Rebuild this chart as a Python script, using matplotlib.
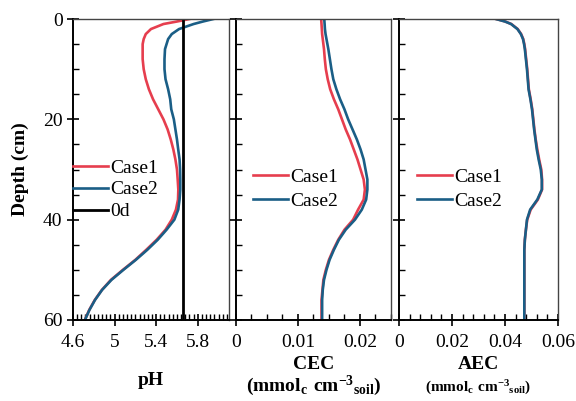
import numpy as np
import matplotlib
matplotlib.use("Agg")
from matplotlib import pyplot as plt
from matplotlib.ticker import MultipleLocator

plt.rcParams['font.family'] = ['Liberation Serif', 'DejaVu Serif']
plt.rcParams['mathtext.fontset'] = 'custom'
plt.rcParams['mathtext.rm'] = 'Liberation Serif'
plt.rcParams['mathtext.bf'] = 'Liberation Serif:bold'
plt.rcParams['font.size'] = 14

# depth grid (cm)
depth = [0, 0.5, 1, 2, 3, 4, 5, 6, 8, 10, 12, 14, 16, 18, 20, 22, 24, 26, 28,
         30, 32, 34, 36, 38, 40, 42, 44, 46, 48, 50, 52, 54, 56, 58, 60]

# pH profiles
ph_case1 = [5.72, 5.60, 5.47, 5.35, 5.30, 5.28, 5.27, 5.27, 5.27, 5.28, 5.30, 5.33,
            5.37, 5.42, 5.47, 5.51, 5.54, 5.565, 5.585, 5.60, 5.607, 5.613, 5.61,
            5.59, 5.55, 5.49, 5.405, 5.305, 5.20, 5.08, 4.965, 4.878, 4.81, 4.756, 4.714]
ph_case2 = [5.95, 5.85, 5.76, 5.62, 5.55, 5.515, 5.50, 5.485, 5.48, 5.48, 5.49, 5.515,
            5.535, 5.545, 5.57, 5.585, 5.60, 5.612, 5.625, 5.63, 5.632, 5.632, 5.625,
            5.612, 5.575, 5.50, 5.415, 5.315, 5.205, 5.085, 4.97, 4.88, 4.812, 4.758, 4.715]
ph_0d = 5.66

# CEC profiles (mmolc cm-3 soil)
cec_case1 = [0.01375, 0.01377, 0.0138, 0.01385, 0.0139, 0.0140, 0.0141, 0.0142,
             0.01433, 0.0145, 0.0148, 0.0152, 0.0158, 0.0165, 0.0171, 0.0177, 0.0184,
             0.0190, 0.0196, 0.0201, 0.0206, 0.0208, 0.0206, 0.0197, 0.0189, 0.0175,
             0.0165, 0.0157, 0.0150, 0.0145, 0.0141, 0.01395, 0.0138, 0.0138, 0.0138]
cec_case2 = [0.01425, 0.01427, 0.0143, 0.01435, 0.01445, 0.0146, 0.01475, 0.0149,
             0.01515, 0.0154, 0.0157, 0.0162, 0.0168, 0.0175, 0.0181, 0.0188, 0.0195,
             0.0201, 0.0206, 0.0209, 0.0212, 0.0212, 0.0210, 0.0203, 0.0192, 0.0177,
             0.0166, 0.0158, 0.0151, 0.0146, 0.0142, 0.0140, 0.0139, 0.0139, 0.0139]

# AEC profiles (mmolc cm-3 soil)
aec_case1 = [0.0367, 0.0401, 0.0424, 0.0448, 0.0461, 0.0469, 0.0473, 0.0476,
             0.0480, 0.0484, 0.0487, 0.0490, 0.0497, 0.0503, 0.0507, 0.0511, 0.0516,
             0.0522, 0.0529, 0.0537, 0.0540, 0.0540, 0.0524, 0.0497, 0.0484, 0.0479,
             0.0475, 0.0473, 0.0473, 0.0473, 0.0473, 0.0473, 0.0473, 0.0473, 0.0473]
aec_case2 = [0.0366, 0.0400, 0.0423, 0.0447, 0.0460, 0.0468, 0.0472, 0.0475,
             0.0479, 0.0483, 0.0486, 0.0489, 0.0496, 0.0502, 0.0506, 0.0510, 0.0515,
             0.0520, 0.0527, 0.0535, 0.0539, 0.0539, 0.0522, 0.0495, 0.0483, 0.0479,
             0.0475, 0.0473, 0.0473, 0.0473, 0.0473, 0.0473, 0.0473, 0.0473, 0.0473]

red = '#E63E4E'
blue = '#1A5E86'
lw = 1.9

fig = plt.figure(figsize=(5.76, 4.01), dpi=100)
bottom, height = 0.202, 0.7506
ax1 = fig.add_axes([0.1267, bottom, 0.2708, height])
ax2 = fig.add_axes([0.4097, bottom, 0.2690, height])
ax3 = fig.add_axes([0.6927, bottom, 0.2760, height])


def style(ax):
    ax.set_ylim(60, 0)
    ax.yaxis.set_major_locator(MultipleLocator(20))
    ax.yaxis.set_minor_locator(MultipleLocator(5))
    ax.tick_params(which='major', direction='inout', length=8, width=1.2)
    ax.tick_params(which='minor', direction='in', length=4, width=1.0)
    ax.tick_params(axis='x', pad=6)
    for s in ['left', 'bottom']:
        ax.spines[s].set_linewidth(1.4)
        ax.spines[s].set_color('black')
    for s in ['top', 'right']:
        ax.spines[s].set_linewidth(1.0)
        ax.spines[s].set_color('#444444')


leg_kw = dict(loc='upper left', frameon=False, borderpad=0, borderaxespad=0,
              handlelength=1.8, handletextpad=0.1)

# pH
ax1.plot(ph_case1, depth, color=red, lw=lw, label='Case1')
ax1.plot(ph_case2, depth, color=blue, lw=lw, label='Case2')
ax1.axvline(ph_0d, color='black', lw=2.0, label='0d')
ax1.set_xlim(4.6, 6.1)
ax1.set_xticks([4.6, 5.0, 5.4, 5.8])
ax1.set_xticklabels(['4.6', '5', '5.4', '5.8'])
ax1.xaxis.set_minor_locator(MultipleLocator(0.04))
style(ax1)
ax1.set_yticks([0, 20, 40, 60])
ax1.set_yticklabels(['0', '20', '40', '60'])
ax1.set_ylabel('Depth (cm)', fontweight='bold', labelpad=10)
ax1.set_xlabel('pH', fontweight='bold', labelpad=15)
ax1.legend(bbox_to_anchor=(0.0, 0.535), labelspacing=0.22, **leg_kw)

# CEC
ax2.plot(cec_case1, depth, color=red, lw=lw, label='Case1')
ax2.plot(cec_case2, depth, color=blue, lw=lw, label='Case2')
ax2.set_xlim(0, 0.025)
ax2.set_xticks([0, 0.01, 0.02])
ax2.set_xticklabels(['0', '0.01', '0.02'])
ax2.xaxis.set_minor_locator(MultipleLocator(0.0025))
style(ax2)
ax2.set_yticklabels([])
ax2.set_xlabel('CEC\n' + r'$\mathbf{(mmol_c\ cm^{-3}{}_{soil})}$',
               fontweight='bold', labelpad=4, linespacing=1.0)
ax2.legend(bbox_to_anchor=(0.11, 0.505), labelspacing=0.35, **leg_kw)

# AEC
ax3.plot(aec_case1, depth, color=red, lw=lw, label='Case1')
ax3.plot(aec_case2, depth, color=blue, lw=lw, label='Case2')
ax3.set_xlim(0, 0.06)
ax3.set_xticks([0, 0.02, 0.04, 0.06])
ax3.set_xticklabels(['0', '0.02', '0.04', '0.06'])
ax3.xaxis.set_minor_locator(MultipleLocator(0.004))
style(ax3)
ax3.set_yticklabels([])
ax3.set_xlabel('AEC', fontweight='bold', labelpad=4)
fig.text(0.6927 + 0.138, 0.032, r'$\mathbf{(mmol_c\ cm^{-3}{}_{soil})}$',
         ha='center', va='center', fontsize=11)
ax3.legend(bbox_to_anchor=(0.113, 0.505), labelspacing=0.35, **leg_kw)

fig.savefig('out.png', dpi=100)
